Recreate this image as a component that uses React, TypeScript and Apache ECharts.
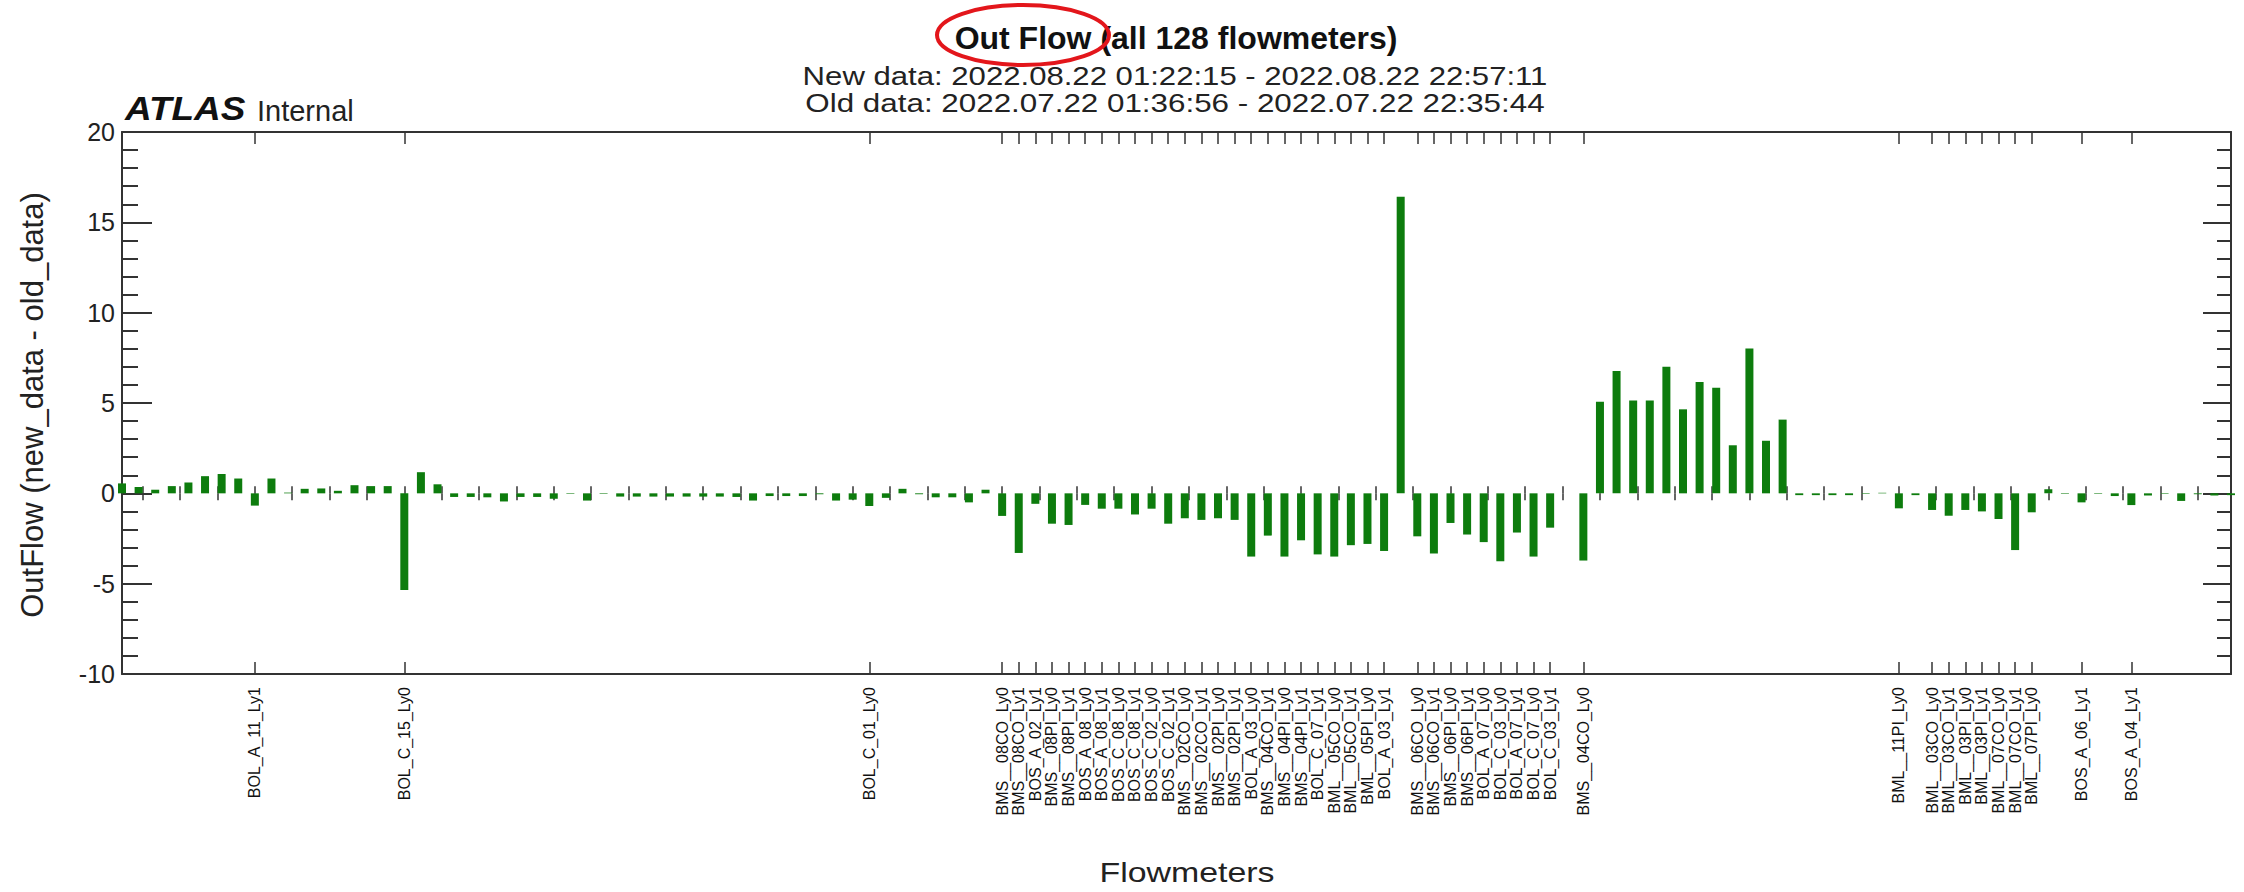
import React, { useEffect, useRef } from "react";
import * as echarts from "echarts";

// OutFlow difference (new_data - old_data) for the 128 flowmeters, bin by bin
const outFlowDiff: number[] = [
  0.55, 0.35, 0.2, 0.4, 0.6, 0.95, 1.07, 0.82, -0.68, 0.82,
  0.04, 0.25, 0.27, 0.14, 0.45, 0.4, 0.4, -5.35, 1.17, 0.5,
  -0.2, -0.2, -0.22, -0.45, -0.2, -0.2, -0.3, -0.03, -0.4, -0.03,
  -0.18, -0.18, -0.18, -0.18, -0.18, -0.18, -0.18, -0.2, -0.4, -0.15,
  -0.15, -0.15, -0.05, -0.4, -0.35, -0.7, -0.25, 0.25, -0.05, -0.22,
  -0.22, -0.5, 0.2, -1.25, -3.3, -0.58, -1.68, -1.75, -0.64, -0.85,
  -0.85, -1.17, -0.85, -1.68, -1.38, -1.47, -1.38, -1.47, -3.5, -2.34,
  -3.5, -2.6, -3.38, -3.5, -2.87, -2.8, -3.19, 16.41, -2.38, -3.33,
  -1.64, -2.28, -2.7, -3.76, -2.17, -3.5, -1.9, 0, -3.72, 5.07,
  6.77, 5.14, 5.14, 7.0, 4.65, 6.16, 5.84, 2.66, 8.02, 2.91,
  4.08, -0.1, -0.1, -0.1, -0.1, -0.03, 0.03, -0.83, -0.1, -0.92,
  -1.24, -0.92, -1.0, -1.42, -3.14, -1.05, 0.22, -0.03, -0.5, -0.03,
  -0.15, -0.65, -0.12, -0.03, -0.42, -0.05, -0.12, -0.1,
];

// bins that carry a visible name on the x axis, and those names
const labeledBins: number[] = [
  8, 17, 45,
  53, 54, 55, 56, 57, 58, 59, 60, 61, 62, 63, 64, 65, 66, 67, 68, 69, 70, 71, 72, 73, 74, 75, 76,
  78, 79, 80, 81, 82, 83, 84, 85, 86, 88,
  107, 109, 110, 111, 112, 113, 114, 115, 118, 121,
];
const labeledNames: string[] = [
  "BOL_A_11_Ly1", "BOL_C_15_Ly0", "BOL_C_01_Ly0",
  "BMS__08CO_Ly0", "BMS__08CO_Ly1", "BOS_A_02_Ly1", "BMS__08PI_Ly0", "BMS__08PI_Ly1",
  "BOS_A_08_Ly0", "BOS_A_08_Ly1", "BOS_C_08_Ly0", "BOS_C_08_Ly1", "BOS_C_02_Ly0", "BOS_C_02_Ly1",
  "BMS__02CO_Ly0", "BMS__02CO_Ly1", "BMS__02PI_Ly0", "BMS__02PI_Ly1", "BOL_A_03_Ly0",
  "BMS__04CO_Ly1", "BMS__04PI_Ly0", "BMS__04PI_Ly1", "BOL_C_07_Ly1", "BML__05CO_Ly0",
  "BML__05CO_Ly1", "BML__05PI_Ly0", "BOL_A_03_Ly1",
  "BMS__06CO_Ly0", "BMS__06CO_Ly1", "BMS__06PI_Ly0", "BMS__06PI_Ly1", "BOL_A_07_Ly0",
  "BOL_C_03_Ly0", "BOL_A_07_Ly1", "BOL_C_07_Ly0", "BOL_C_03_Ly1", "BMS__04CO_Ly0",
  "BML__11PI_Ly0", "BML__03CO_Ly0", "BML__03CO_Ly1", "BML__03PI_Ly0", "BML__03PI_Ly1",
  "BML__07CO_Ly0", "BML__07CO_Ly1", "BML__07PI_Ly0", "BOS_A_06_Ly1", "BOS_A_04_Ly1",
];

const yMin = -10;
const yMax = 20;
const yInterval = 5;

const titleText = "Out Flow (all 128 flowmeters)";
const newDataText = "New data: 2022.08.22 01:22:15 - 2022.08.22 22:57:11";
const oldDataText = "Old data: 2022.07.22 01:36:56 - 2022.07.22 22:35:44";
const yTitle = "OutFlow (new_data - old_data)";
const xTitle = "Flowmeters";

// axis decoration: regular tick spacing of the frame, in bins
const tickStart = 1.25;
const tickStep = 2.25;

const FONT = '"Liberation Sans", Arial, Helvetica, sans-serif';

export default function App() {
  const ref = useRef<HTMLDivElement>(null);

  useEffect(() => {
    if (!ref.current) return;
    const chart = echarts.init(ref.current, null, { renderer: "svg" });

    const binNames = outFlowDiff.map((_, i) => String(i));
    const nameOf = (i: number) => {
      const k = labeledBins.indexOf(i);
      return k >= 0 ? labeledNames[k] : "";
    };
    const isLabeled = (i: number) => labeledBins.indexOf(i) >= 0;
    const lastBin = outFlowDiff.length - 1;
    const regularTicks: number[] = [];
    for (let v = tickStart; v <= lastBin; v += tickStep) regularTicks.push(v);

    const frameColor = "#333";
    const valueTickAxis = (position: "top" | "bottom") => ({
      type: "value",
      position,
      min: 0,
      max: lastBin,
      axisLine: { show: false },
      axisLabel: { show: false },
      splitLine: { show: false },
      axisTick: {
        show: true,
        inside: true,
        length: 7,
        customValues: regularTicks,
        lineStyle: { color: frameColor, width: 1.5 },
      },
    });

    chart.setOption({
      animation: false,
      backgroundColor: "#ffffff",
      grid: { left: 122, right: 13, top: 132, bottom: 218, containLabel: false, outerBoundsMode: "none" },
      xAxis: [
        {
          type: "category",
          position: "bottom",
          data: binNames,
          boundaryGap: false,
          axisLine: { show: true, onZero: false, lineStyle: { color: frameColor, width: 2 } },
          axisTick: {
            show: true,
            inside: true,
            length: 12,
            interval: (i: number) => isLabeled(i),
            lineStyle: { color: frameColor, width: 1.5 },
          },
          axisLabel: {
            show: true,
            rotate: 90,
            interval: (i: number) => isLabeled(i),
            formatter: (_v: string, i: number) => nameOf(i),
            fontSize: 16,
            fontFamily: FONT,
            color: "#111",
            margin: 13,
          },
          splitLine: { show: false },
        },
        {
          type: "category",
          position: "top",
          data: binNames,
          boundaryGap: false,
          axisLine: { show: true, onZero: false, lineStyle: { color: frameColor, width: 2 } },
          axisTick: {
            show: true,
            inside: true,
            length: 12,
            interval: (i: number) => isLabeled(i),
            lineStyle: { color: frameColor, width: 1.5 },
          },
          axisLabel: { show: false },
          splitLine: { show: false },
        },
        valueTickAxis("bottom"),
        valueTickAxis("top"),
      ],
      yAxis: [
        {
          type: "value",
          position: "left",
          min: yMin,
          max: yMax,
          interval: yInterval,
          axisLine: { show: true, onZero: false, lineStyle: { color: frameColor, width: 2 } },
          axisTick: { show: true, inside: true, length: 30, lineStyle: { color: frameColor, width: 2 } },
          minorTick: { show: true, splitNumber: 5, length: 16, lineStyle: { color: frameColor, width: 2 } },
          axisLabel: { fontSize: 25, fontFamily: FONT, color: "#222", margin: 7 },
          splitLine: { show: false },
        },
        {
          type: "value",
          position: "right",
          min: yMin,
          max: yMax,
          interval: yInterval,
          axisLine: { show: true, onZero: false, lineStyle: { color: frameColor, width: 2 } },
          axisTick: { show: true, inside: true, length: 28, lineStyle: { color: frameColor, width: 2 } },
          minorTick: { show: true, splitNumber: 5, length: 14, lineStyle: { color: frameColor, width: 2 } },
          axisLabel: { show: false },
          splitLine: { show: false },
        },
      ],
      series: [
        {
          type: "bar",
          xAxisIndex: 0,
          yAxisIndex: 0,
          data: outFlowDiff,
          barWidth: 8,
          itemStyle: { color: "#0d7c0d" },
          clip: true,
        },
      ],
      graphic: [
        {
          type: "text",
          x: 1176,
          y: 38,
          style: { text: titleText, font: `bold 32px ${FONT}`, fill: "#111", textAlign: "center", textVerticalAlign: "middle" },
        },
        {
          type: "text",
          x: 1175,
          y: 76,
          scaleX: 1.22,
          style: { text: newDataText, font: `25.5px ${FONT}`, fill: "#222", textAlign: "center", textVerticalAlign: "middle" },
        },
        {
          type: "text",
          x: 1175,
          y: 103,
          scaleX: 1.23,
          style: { text: oldDataText, font: `25.5px ${FONT}`, fill: "#222", textAlign: "center", textVerticalAlign: "middle" },
        },
        {
          type: "text",
          x: 125,
          y: 108,
          scaleX: 1.12,
          style: { text: "ATLAS", font: `italic bold 33px ${FONT}`, fill: "#111", textAlign: "left", textVerticalAlign: "middle" },
        },
        {
          type: "text",
          x: 257,
          y: 111,
          style: { text: "Internal", font: `29px ${FONT}`, fill: "#222", textAlign: "left", textVerticalAlign: "middle" },
        },
        {
          type: "text",
          x: 1187,
          y: 873,
          scaleX: 1.21,
          style: { text: xTitle, font: `28px ${FONT}`, fill: "#222", textAlign: "center", textVerticalAlign: "middle" },
        },
        {
          type: "text",
          x: 32,
          y: 405,
          rotation: Math.PI / 2,
          style: { text: yTitle, font: `31px ${FONT}`, fill: "#222", textAlign: "center", textVerticalAlign: "middle" },
        },
        {
          type: "ellipse",
          shape: { cx: 1023, cy: 35, rx: 86, ry: 30 },
          style: { fill: "none", stroke: "#e3161b", lineWidth: 4 },
        },
      ],
    });

    return () => chart.dispose();
  }, []);

  return (
    <div
      ref={ref}
      style={{ position: "absolute", left: 0, top: 0, width: 2244, height: 892, background: "#fff" }}
    />
  );
}
